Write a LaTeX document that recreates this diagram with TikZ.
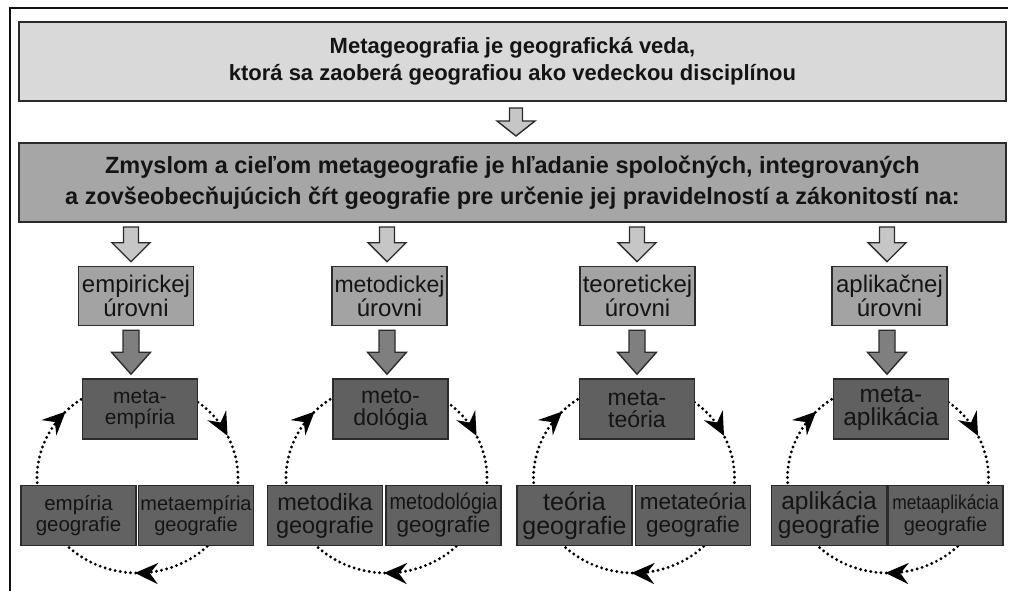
\documentclass[tikz,border=0pt]{standalone}
\usepackage{fontspec}
\setmainfont{Liberation Sans}
\usetikzlibrary{calc,arrows.meta,decorations.markings}
\pgfdeclarelayer{bg}
\pgfsetlayers{bg,main}

\definecolor{framec}{HTML}{111111}
\definecolor{edge}{HTML}{2B2B2B}
\definecolor{topfill}{HTML}{D9D9D9}
\definecolor{midfill}{HTML}{A6A6A6}
\definecolor{lvlfill}{HTML}{A3A3A3}
\definecolor{metafill}{HTML}{606060}
\definecolor{basefill}{HTML}{626262}
\definecolor{lightarr}{HTML}{C6C6C6}
\definecolor{darkarr}{HTML}{7F7F7F}
\definecolor{ink}{HTML}{141414}

\newcommand{\fz}[2]{\fontsize{#1}{#2}\selectfont}

% block arrow pointing down between two nodes
% #1 column coordinate, #2 upper node, #3 lower node, #4 shaft half width,
% #5 head half width, #6 head length, #7 style, #8 gap
\newcommand{\blockdown}[8]{%
  \draw[#7] let \p1=(#1 |- #2.south), \p2=(#1 |- #3.north) in
    (\x1-#4,\y1-#8) -- (\x1+#4,\y1-#8) -- (\x1+#4,\y2+#8+#6) --
    (\x1+#5,\y2+#8+#6) -- (\x1,\y2+#8) -- (\x1-#5,\y2+#8+#6) --
    (\x1-#4,\y2+#8+#6) -- cycle;}

% dotted elliptic arc with an arrow tip part way along it
% #1 centre, #2 start angle, #3 end angle, #4 tip position
\newcommand{\cyclearc}[4]{%
  \draw[cyc, postaction={decorate}, decoration={markings,
      mark=at position #4 with {\pgfsetdash{}{0pt}\arrow{cyctip}}}]
    (#1) ++(#2:100.5pt and 95pt)
    arc[start angle=#2, end angle=#3, x radius=100.5pt, y radius=95pt];}

\begin{document}
\begin{tikzpicture}[x=1pt,y=1pt,
  headbox/.style={draw=edge, line width=2pt, minimum width=987pt,
    minimum height=79pt, inner sep=0pt, align=center, text=ink},
  box/.style={draw=edge, line width=1.5pt, minimum width=115pt,
    minimum height=60pt, inner sep=0pt, align=center, text=ink},
  lvl/.style={box, fill=lvlfill, minimum height=59pt, font=\fz{24}{24}},
  meta/.style={box, fill=metafill},
  base/.style={box, fill=basefill},
  lightblock/.style={draw=edge, line width=1.4pt, fill=lightarr, line join=miter},
  darkblock/.style={draw=edge, line width=1.4pt, fill=darkarr, line join=miter},
  cyc/.style={draw=black, line width=3.2pt, dash pattern=on 0pt off 5.2pt,
    line cap=round},
  cyctip/.tip={Stealth[length=23pt,width=21pt,inset=8pt]}
]
\useasboundingbox (0,0) rectangle (1010,591);

% outer frame (top and left rules)
\draw[framec, line width=2.8pt] (10,-2) -- (10,583) -- (1008,583);

% heading boxes
\node[headbox, fill=topfill, font=\fz{22}{27}\bfseries] (head) at (512.5,529.5)
  {Metageografia je geografická veda,\\ktorá sa zaoberá geografiou ako vedeckou disciplínou};
\node[headbox, fill=midfill, font=\fz{23.5}{31}\bfseries] (aim) at (512.5,408.5)
  {Zmyslom a cieľom metageografie je hľadanie spoločných, integrovaných\\
   a zovšeobecňujúcich čŕt geografie pre určenie jej pravidelností a zákonitostí na:};

\coordinate (ah) at (516,500);
\blockdown{ah}{head}{aim}{6.5}{19}{15}{lightblock}{6}

% column coordinates: block arrows and cycle centres
\foreach \i/\a/\b in {1/131/137.5, 2/387/386.5, 3/637/634, 4/887/888}{
  \coordinate (a\i) at (\a,0);
  \coordinate (c\i) at (\b,113);
}

% level boxes
\node[lvl] (l1) at (136,295) {empirickej\\úrovni};
\node[lvl] (l2) at (389.5,295) {{\fz{23}{24}metodickej}\\úrovni};
\node[lvl] (l3) at (637.5,295) {teoretickej\\úrovni};
\node[lvl] (l4) at (889.5,295) {aplikačnej\\úrovni};

% meta boxes
\node[meta, font=\fz{21}{21}] (m1) at (140,182) {meta-\\empíria};
\node[meta, font=\fz{23}{22}] (m2) at (390.5,182) {meto-\\dológia};
\node[meta, font=\fz{23}{22}] (m3) at (637,182) {meta-\\teória};
\node[meta, font=\fz{24.5}{23}] (m4) at (891,182) {meta-\\aplikácia};

% base boxes
\node[base, font=\fz{20.5}{21}] (p1) at (78.5,75.5) {empíria\\geografie};
\node[base, font=\fz{20}{21}] (q1) at (196,75.5) {metaempíria\\geografie};
\node[base, font=\fz{23.5}{23}] (p2) at (325,75.5) {metodika\\geografie};
\node[base, font=\fz{22.5}{23}] (q2) at (443.5,75.5) {\scalebox{0.88}[1]{metodológia}\\geografie};
\node[base, font=\fz{25}{24}] (p3) at (574.5,75.5) {teória\\geografie};
\node[base, font=\fz{22.5}{23}] (q3) at (693,75.5) {metateória\\geografie};
\node[base, font=\fz{24.5}{24}] (p4) at (829,75.5) {aplikácia\\geografie};
\node[base, font=\fz{20}{22}] (q4) at (945.5,75.5) {\scalebox{0.87}[1]{metaaplikácia}\\geografie};

% block arrows in the columns
\foreach \i in {1,2,3,4}{
  \blockdown{a\i}{aim}{l\i}{7.5}{19}{19}{lightblock}{4}
  \blockdown{a\i}{l\i}{m\i}{8}{19.5}{22}{darkblock}{4}
}

% cycles behind the boxes
\begin{pgfonlayer}{bg}
\foreach \i in {1,2,3,4}{
  \cyclearc{c\i}{186}{118}{0.735}
  \cyclearc{c\i}{62}{-6}{0.53}
  \cyclearc{c\i}{-40}{-140}{0.515}
}
\end{pgfonlayer}
\end{tikzpicture}
\end{document}
